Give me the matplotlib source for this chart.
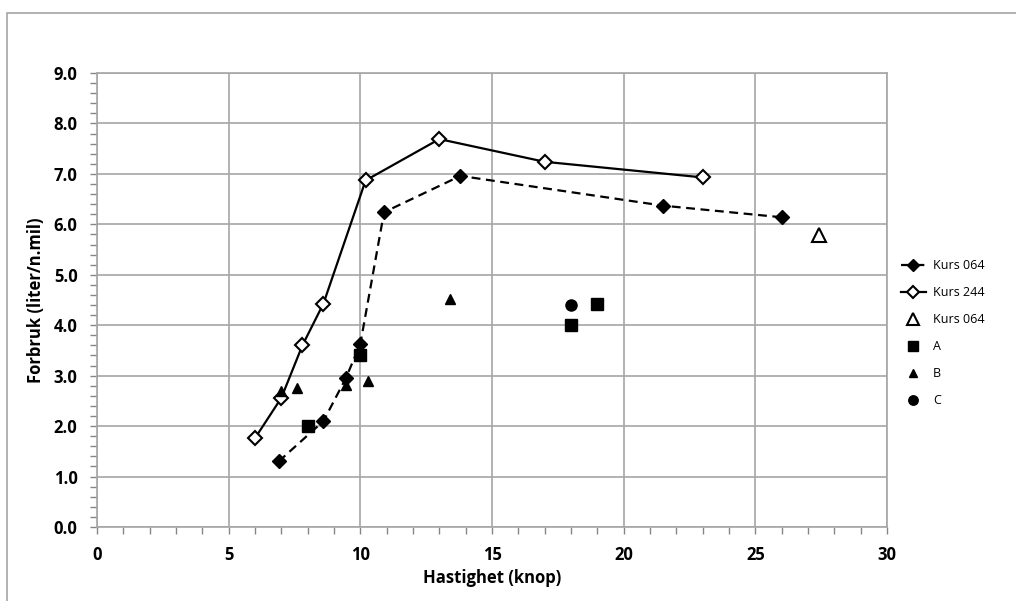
import matplotlib.pyplot as plt
from matplotlib.patches import Rectangle
from matplotlib.ticker import MultipleLocator

# Kurs 064 (stiplet linje, fylte ruter)
kurs064_x = [6.9, 8.6, 9.45, 10.0, 10.9, 13.8, 21.5, 26.0]
kurs064_y = [1.3, 2.1, 2.95, 3.63, 6.24, 6.96, 6.37, 6.14]

# Kurs 244 (heltrukket linje, åpne ruter)
kurs244_x = [6.0, 7.0, 7.8, 8.6, 10.2, 13.0, 17.0, 23.0]
kurs244_y = [1.76, 2.56, 3.6, 4.43, 6.87, 7.69, 7.24, 6.93]

# Kurs 064 enkeltpunkt (åpen trekant)
kurs064b_x = [27.4]
kurs064b_y = [5.79]

a_x = [8.0, 10.0, 18.0, 19.0]
a_y = [2.0, 3.4, 4.0, 4.42]

b_x = [7.0, 7.6, 9.45, 10.3, 13.4]
b_y = [2.7, 2.75, 2.82, 2.9, 4.51]

c_x = [18.0]
c_y = [4.4]

x_ticks = [0, 5, 10, 15, 20, 25, 30]
y_ticks = [0, 1, 2, 3, 4, 5, 6, 7, 8, 9]

plt.rcParams['font.family'] = ['Open Sans', 'DejaVu Sans']

fig = plt.figure(figsize=(10.16, 6.01), dpi=100)
ax = fig.add_axes([97 / 1016, 74 / 601, 790 / 1016, 454 / 601])

# ramme rundt hele diagrammet
fig.patches.append(Rectangle((7 / 1016, -0.1), 1.2, (601 - 13) / 601 + 0.1,
                             transform=fig.transFigure, fill=False,
                             edgecolor='#a6a6a6', linewidth=1.2))

ax.plot(kurs064_x, kurs064_y, color='black', linestyle=(0, (4, 2.5)), linewidth=1.6,
        marker='D', markersize=7, markerfacecolor='black', label='Kurs 064')
ax.plot(kurs244_x, kurs244_y, color='black', linestyle='-', linewidth=1.6,
        marker='D', markersize=7.5, markerfacecolor='white', markeredgewidth=1.5,
        label='Kurs 244')
ax.plot(kurs064b_x, kurs064b_y, linestyle='none', marker='^', markersize=10,
        markerfacecolor='white', markeredgecolor='black', markeredgewidth=1.5,
        label='Kurs 064')
ax.plot(a_x, a_y, linestyle='none', marker='s', markersize=8, color='black', label='A')
ax.plot(b_x, b_y, linestyle='none', marker='^', markersize=7.5, color='black', label='B')
ax.plot(c_x, c_y, linestyle='none', marker='o', markersize=8, color='black', label='C')

ax.set_xlim(0, 30)
ax.set_ylim(0, 9)
ax.set_xticks(x_ticks)
ax.set_xticklabels([str(v) for v in x_ticks], fontweight='bold', fontsize=12)
ax.set_yticks(y_ticks)
ax.set_yticklabels([f'{v:.1f}' for v in y_ticks], fontweight='bold', fontsize=12)
ax.xaxis.set_minor_locator(MultipleLocator(1))
ax.yaxis.set_minor_locator(MultipleLocator(0.2))

ax.grid(True, which='major', color='#a6a6a6', linewidth=1.2)
for s in ax.spines.values():
    s.set_color('#a6a6a6')
    s.set_linewidth(1.2)
ax.tick_params(which='both', color='#868686', length=5, width=1)
ax.tick_params(axis='both', which='major', pad=9)

ax.set_xlabel('Hastighet (knop)', fontsize=12, fontweight='bold', labelpad=3)
ax.set_ylabel('Forbruk (liter/n.mil)', fontsize=12, fontweight='bold', labelpad=6)

ax.legend(loc='upper left', bbox_to_anchor=(1.003, 0.615), frameon=False,
          fontsize=9, handlelength=2.0, handletextpad=0.6, labelspacing=1.12,
          markerscale=0.85)

fig.savefig('out.png', dpi=100)
